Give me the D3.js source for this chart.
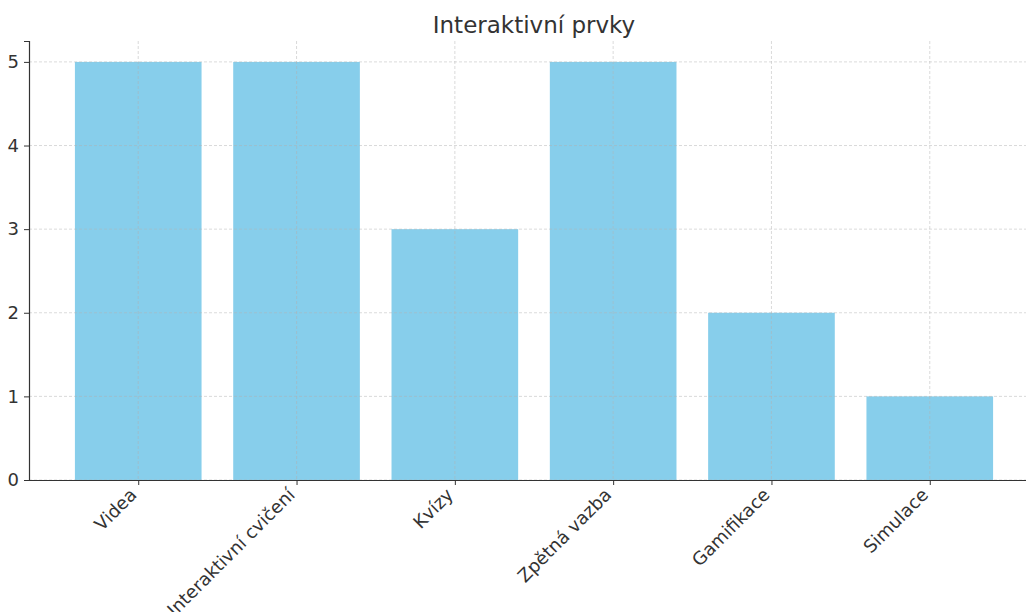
<!DOCTYPE html>
<html>
<head>
<meta charset="utf-8">
<script src="https://cdn.jsdelivr.net/npm/d3@7"></script>
<style>
  html, body { margin: 0; padding: 0; background: #fff; }
  svg { display: block; font-family: "DejaVu Sans", sans-serif; }
</style>
</head>
<body>
<svg id="chart" width="1026" height="612"></svg>
<script>
// Categories and counts for the bar chart
const categories = ["Videa", "Interaktivní cvičení", "Kvízy", "Zpětná vazba", "Gamifikace", "Simulace"];
const values = [5, 5, 3, 5, 2, 1];
const yTicks = [0, 1, 2, 3, 4, 5];
const chartTitle = "Interaktivní prvky";

const svg = d3.select("#chart");
const plot = { left: 29, right: 1039, top: 41, bottom: 480 };

// Linear x scale over category index, bar width 0.8 with 5% padding
const x = d3.scaleLinear().domain([-0.69, categories.length - 1 + 0.69]).range([plot.left, plot.right]);
const y = d3.scaleLinear().domain([0, 5.25]).range([plot.bottom, plot.top]);
const barW = 0.8;

// Bars
svg.append("g").selectAll("rect")
  .data(values)
  .join("rect")
  .attr("x", (d, i) => x(i - barW / 2))
  .attr("width", (d, i) => x(i + barW / 2) - x(i - barW / 2))
  .attr("y", d => y(d))
  .attr("height", d => y(0) - y(d))
  .attr("fill", "#87ceeb");

// Dashed grid on top of the bars
const grid = svg.append("g").attr("stroke", "#b0b0b0").attr("stroke-opacity", 0.6)
  .attr("stroke-dasharray", "3,2").attr("stroke-width", 0.8);
grid.selectAll("line.h").data(yTicks).join("line").attr("class", "h")
  .attr("x1", plot.left).attr("x2", plot.right)
  .attr("y1", d => y(d)).attr("y2", d => y(d));
grid.selectAll("line.v").data(categories).join("line").attr("class", "v")
  .attr("x1", (d, i) => x(i)).attr("x2", (d, i) => x(i))
  .attr("y1", plot.top).attr("y2", plot.bottom);

// Y axis
const yAxis = svg.append("g").attr("transform", `translate(${plot.left},0)`)
  .call(d3.axisLeft(y).tickValues(yTicks).tickFormat(d3.format("d")).tickSize(5).tickPadding(5));
yAxis.select(".domain").attr("stroke", "#333").attr("stroke-width", 1.2);
yAxis.selectAll(".tick line").attr("stroke", "#333");
yAxis.selectAll(".tick text").attr("font-size", 18).attr("fill", "#333").attr("font-family", "DejaVu Sans");

// X axis
const xAxis = svg.append("g").attr("transform", `translate(0,${plot.bottom})`)
  .call(d3.axisBottom(x).tickValues(d3.range(categories.length)).tickFormat(i => categories[i]).tickSize(5).tickSizeOuter(0));
xAxis.select(".domain").attr("stroke", "#333").attr("stroke-width", 1.2);
xAxis.selectAll(".tick line").attr("stroke", "#333");
xAxis.selectAll(".tick text")
  .attr("font-size", 18).attr("fill", "#333").attr("font-family", "DejaVu Sans")
  .attr("text-anchor", "end")
  .attr("dy", null).attr("y", null)
  .attr("transform", "translate(-1,16) rotate(-45)");

// Title
svg.append("text")
  .attr("x", 534).attr("y", 33)
  .attr("text-anchor", "middle")
  .attr("font-size", 23).attr("fill", "#333")
  .text(chartTitle);
</script>
</body>
</html>
